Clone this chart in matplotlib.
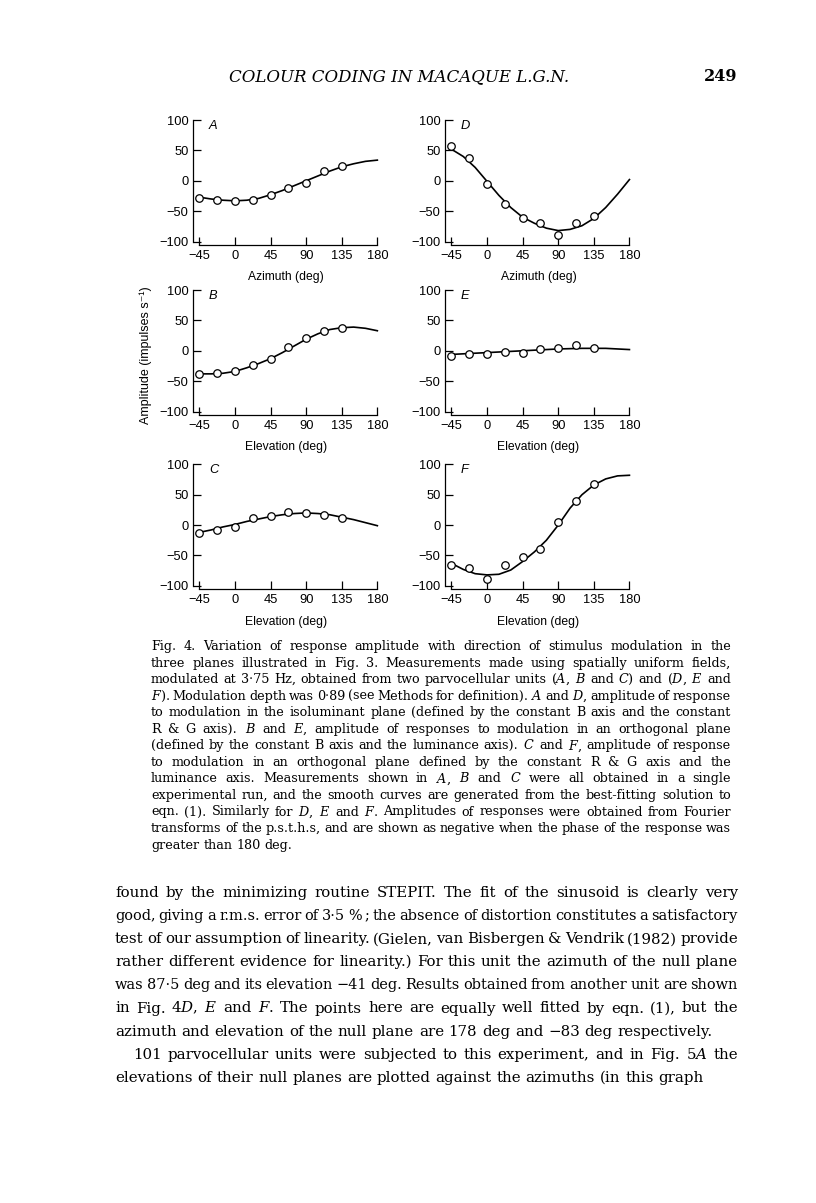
import re
import numpy as np
import matplotlib
matplotlib.use('Agg')
import matplotlib.pyplot as plt

plt.rcParams['mathtext.fontset'] = 'dejavuserif'

W, H = 816, 1203

# sample angles (deg) of the measured points
angles = [-45, -22.5, 0, 22.5, 45, 67.5, 90, 112.5, 135]
fit_angles = [-45, -30, -15, 0, 15, 30, 45, 60, 75, 90, 105, 120, 135, 150, 165, 180]

a_pts = [-28, -31, -34, -31, -23, -12, -4, 16, 25]
b_pts = [-38, -36, -33, -23, -13, 6, 21, 33, 37]
c_pts = [-13, -8, -3, 11, 15, 21, 20, 16, 12]
d_pts = [57, 38, -5, -39, -61, -69, -89, -70, -58]
e_pts = [-9, -6, -5, -2, -3, 3, 4, 9, 5]
f_pts = [-65, -71, -89, -65, -53, -40, 5, 40, 68]

a_fit = [-27, -30, -32, -33, -32, -29, -23, -16, -8, 0, 8, 16, 23, 28, 32, 34]
b_fit = [-38, -38, -37, -34, -28, -21, -13, -3, 8, 19, 28, 35, 38, 39, 37, 33]
c_fit = [-12, -8, -3, 1, 6, 10, 14, 17, 19, 20, 19, 17, 13, 9, 4, -1]
d_fit = [52, 40, 22, -1, -24, -44, -60, -70, -78, -82, -80, -74, -62, -44, -22, 2]
e_fit = [-6, -5, -4, -3, -2, -1, 0, 1, 2, 3, 3.5, 4, 4, 4, 3, 2]
f_fit = [-63, -73, -80, -82, -81, -74, -60, -44, -25, 0, 28, 50, 66, 76, 81, 82]

x_ticks = [-45, 0, 45, 90, 135, 180]
x_labels = ['\u221245', '0', '45', '90', '135', '180']
y_ticks = [-100, -50, 0, 50, 100]
y_labels = ['\u2212100', '\u221250', '0', '50', '100']

header = 'COLOUR CODING IN MACAQUE L.G.N.'
page_no = '249'

caption = [
    'Fig. 4. Variation of response amplitude with direction of stimulus modulation in the',
    'three planes illustrated in Fig. 3. Measurements made using spatially uniform fields,',
    'modulated at 3\u00b775 Hz, obtained from two parvocellular units (*A*, *B* and *C*) and (*D*, *E* and',
    '*F*). Modulation depth was 0\u00b789 (see Methods for definition). *A* and *D*, amplitude of response',
    'to modulation in the isoluminant plane (defined by the constant B axis and the constant',
    'R & G axis). *B* and *E*, amplitude of responses to modulation in an orthogonal plane',
    '(defined by the constant B axis and the luminance axis). *C* and *F*, amplitude of response',
    'to modulation in an orthogonal plane defined by the constant R & G axis and the',
    'luminance axis. Measurements shown in *A*, *B* and *C* were all obtained in a single',
    'experimental run, and the smooth curves are generated from the best-fitting solution to',
    'eqn. (1). Similarly for *D*, *E* and *F*. Amplitudes of responses were obtained from Fourier',
    'transforms of the p.s.t.h.s, and are shown as negative when the phase of the response was',
    'greater than 180 deg.',
]

body = [
    'found by the minimizing routine STEPIT. The fit of the sinusoid is clearly very',
    'good, giving a r.m.s. error of 3\u00b75 % ; the absence of distortion constitutes a satisfactory',
    'test of our assumption of linearity. (Gielen, van Bisbergen & Vendrik (1982) provide',
    'rather different evidence for linearity.) For this unit the azimuth of the null plane',
    'was 87\u00b75 deg and its elevation \u221241 deg. Results obtained from another unit are shown',
    'in Fig. 4*D*, *E* and *F*. The points here are equally well fitted by eqn. (1), but the',
    'azimuth and elevation of the null plane are 178 deg and \u221283 deg respectively.',
    '101 parvocellular units were subjected to this experiment, and in Fig. 5*A* the',
    'elevations of their null planes are plotted against the azimuths (in this graph',
]

fig = plt.figure(figsize=(W / 100, H / 100), dpi=100)
fig.patch.set_facecolor('white')
renderer = fig.canvas.get_renderer()

sans = ['Liberation Sans', 'DejaVu Sans']
serif = 'DejaVu Serif'


def text_line(y_px, line, x0, x1, size, justify=True):
    words = re.sub(r'\*(\w)\*', r'$\\mathit{\1}$', line).split(' ')
    objs = [fig.text(0, 1 - y_px / H, w, fontsize=size, family=serif, va='baseline')
            for w in words]
    widths = [o.get_window_extent(renderer).width for o in objs]
    space = 0.318 * size * 100 / 72
    need = sum(widths) + 0.7 * space * (len(words) - 1)
    if need > x1 - x0:
        # shrink this line a little so it keeps to the column
        size = size * (x1 - x0) / need
        for o in objs:
            o.set_fontsize(size)
        widths = [o.get_window_extent(renderer).width for o in objs]
        space = 0.318 * size * 100 / 72
    if justify and len(words) > 1:
        gap = max((x1 - x0 - sum(widths)) / (len(words) - 1), 0.6 * space)
    else:
        gap = space
    x = x0
    for o, w in zip(objs, widths):
        o.set_x(x / W)
        x += w + gap


def panel(left_px, top_px, pts, fit, letter, xlabel):
    ax = fig.add_axes([left_px / W, 1 - (top_px + 130.6) / H, 189.9 / W, 130.6 / H])
    ax.set_facecolor('none')
    ax.plot(fit_angles, fit, color='black', lw=1.2, zorder=2)
    ax.plot(angles, pts, 'o', ms=5.4, mfc='white', mec='black', mew=0.9, zorder=3)
    ax.set_xlim(-55, 185)
    ax.set_ylim(-110, 105)
    for s in ('top', 'right'):
        ax.spines[s].set_visible(False)
    ax.spines['left'].set_position(('data', -52.6))
    ax.spines['left'].set_bounds(-100, 100)
    ax.spines['bottom'].set_position(('data', -105.5))
    ax.spines['bottom'].set_bounds(-45, 180)
    for s in ('left', 'bottom'):
        ax.spines[s].set_linewidth(0.9)
    ax.set_xticks(x_ticks)
    ax.set_xticklabels(x_labels, family=sans)
    ax.set_yticks(y_ticks)
    ax.set_yticklabels(y_labels, family=sans)
    ax.tick_params(direction='in', length=6, width=0.9, labelsize=9.3, pad=3.5)
    ax.set_xlabel(xlabel, fontsize=8.7, family=sans, labelpad=7)
    ax.text(-33, 91, letter, style='italic', fontsize=9.3, family=sans, va='center')
    return ax


left1, left2 = 191.4, 443.5
tops = [117, 287, 461.3]
panel(left1, tops[0], a_pts, a_fit, 'A', 'Azimuth (deg)')
panel(left1, tops[1], b_pts, b_fit, 'B', 'Elevation (deg)')
panel(left1, tops[2], c_pts, c_fit, 'C', 'Elevation (deg)')
panel(left2, tops[0], d_pts, d_fit, 'D', 'Azimuth (deg)')
panel(left2, tops[1], e_pts, e_fit, 'E', 'Elevation (deg)')
panel(left2, tops[2], f_pts, f_fit, 'F', 'Elevation (deg)')

fig.text(146 / W, 1 - 355 / H, 'Amplitude (impulses s\u207b\u00b9)', rotation=90,
         fontsize=9, family=sans, ha='center', va='center')

fig.text(399 / W, 1 - 81 / H, header, fontsize=12, family=serif, style='italic',
         ha='center', va='baseline')
fig.text(737 / W, 1 - 81 / H, page_no, fontsize=11.5, family=serif, weight='bold',
         ha='right', va='baseline')

for i, line in enumerate(caption):
    text_line(650 + 16.55 * i, line, 151, 731, 9.2, justify=(i < len(caption) - 1))

for i, line in enumerate(body):
    x0 = 133 if i == 7 else 115
    text_line(897 + 23.1 * i, line, x0, 738, 10.8, justify=(i not in (6, 8)))

fig.savefig('out.png', dpi=100, facecolor='white')
